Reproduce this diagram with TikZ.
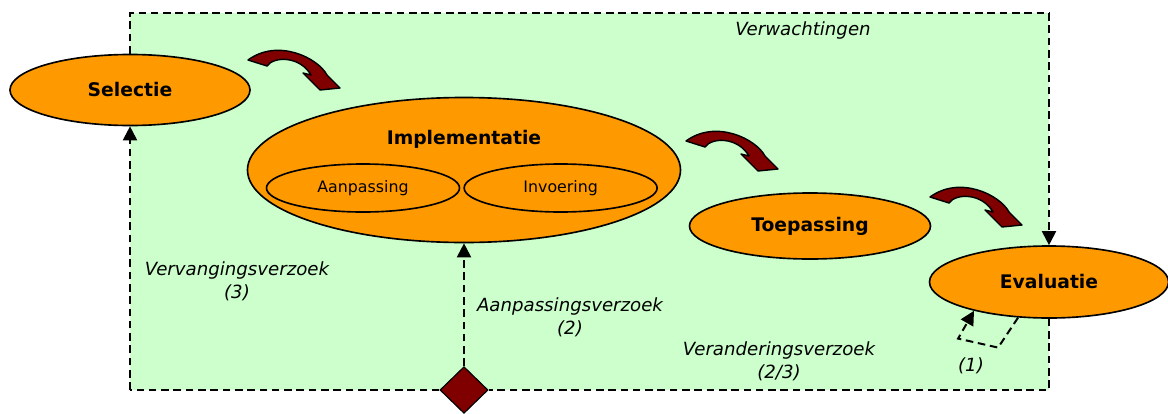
\documentclass[tikz,border=0pt]{standalone}
\usepackage{fontspec}
\setmainfont{DejaVu Sans}
\usetikzlibrary{arrows.meta,shapes.geometric,positioning}
\definecolor{lichtgroen}{HTML}{CCFFCC}
\definecolor{oranje}{HTML}{FF9900}
\definecolor{donkerrood}{HTML}{800000}

\tikzset{
  fase/.style={ellipse,draw,line width=1.4pt,fill=oranje,inner sep=0pt,
    font=\bfseries\fontsize{16}{18}\selectfont},
  deel/.style={ellipse,draw,line width=1.4pt,fill=oranje,inner sep=0pt,
    minimum width=5.79cm,minimum height=1.44cm,font=\fontsize{13.5}{15}\selectfont},
  stippel/.style={line width=1.7pt,dash pattern=on 6.5pt off 4pt},
  pijl/.style={-{Triangle[length=12pt,width=12pt]}},
  verzoek/.style={font=\itshape\fontsize{15.5}{19.5}\selectfont,align=center},
  kromme/.pic={
    \filldraw[fill=donkerrood,line width=1.2pt,line join=round]
      (0,14) -- (19,20) .. controls (26,10) and (52,10) .. (63,29)
      -- (55,27) -- (72,44) -- (92,42) -- (79,29)
      .. controls (70,12) and (30,-8) .. (0,14) -- cycle;
  }
}

\begin{document}
\begin{tikzpicture}[x=0.03cm,y=-0.03cm]
  \useasboundingbox (0,0) rectangle (1168,413);
  \fill[lichtgroen] (130,13) rectangle (1049,390);
  \coordinate (lb) at (130,390);
  \coordinate (lt) at (130,13);
  \coordinate (rt) at (1049,13);
  \coordinate (rb) at (1049,390);

  % fasen
  \node[fase,minimum width=7.2cm,minimum height=2.13cm]  (sel)  at (130,90)   {Selectie};
  \node[fase,minimum width=12.99cm,minimum height=4.35cm,
        label={[font=\bfseries\fontsize{16}{18}\selectfont,yshift=0.93cm]center:Implementatie}]
                                                         (impl) at (464,170)  {};
  \node[deel]                                            (aanp) at (363,188)  {Aanpassing};
  \node[deel,right=0.09cm of aanp]                       (invo)               {Invoering};
  \node[fase,minimum width=7.23cm,minimum height=1.98cm] (toep) at (810,226)  {Toepassing};
  \node[fase,minimum width=7.17cm,minimum height=2.16cm] (eva)  at (1049,282) {Evaluatie};
  \node[diamond,draw,line width=1pt,fill=donkerrood,inner sep=0pt,
        minimum width=1.44cm,minimum height=1.4cm]       (ruit) at (464,390)  {};

  % terugkoppeling
  \draw[stippel] (sel.north) -- (lt) -- (rt);
  \draw[stippel,pijl] (rt) -- (eva.north);
  \draw[stippel] (eva.south) -- (rb) -- (ruit.east);
  \draw[stippel] (ruit.west) -- (lb);
  \draw[stippel,pijl] (lb) -- (sel.south);
  \draw[stippel,pijl] (ruit.north) -- (impl.south);
  \draw[stippel,pijl] (eva.229) -- ++(-20,30) -- ++(-40,-9) -- (eva.201);

  \pic at (248,46)  {kromme};
  \pic at (686,127) {kromme};
  \pic at (930,183) {kromme};

  \node[verzoek] (verw) at (803,30)  {Verwachtingen};
  \node[verzoek] (verv) at (237,281) {Vervangingsverzoek\\(3)};
  \node[verzoek] (aanv) at (570,317) {Aanpassingsverzoek\\(2)};
  \node[verzoek] (vera) at (779,361) {Veranderingsverzoek\\(2/3)};
  \node[verzoek] (een)  at (971,366) {(1)};
\end{tikzpicture}
\end{document}
